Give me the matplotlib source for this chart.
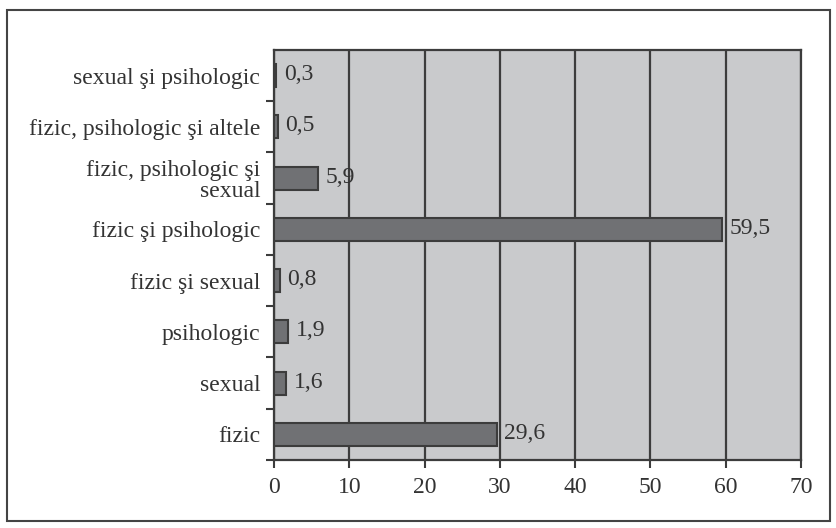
import matplotlib.pyplot as plt
from matplotlib.patches import Rectangle

categorii = ['fizic', 'sexual', 'psihologic', 'fizic şi sexual', 'fizic şi psihologic',
             'fizic, psihologic şi\nsexual', 'fizic, psihologic şi altele', 'sexual şi psihologic']
valori = [29.6, 1.6, 1.9, 0.8, 59.5, 5.9, 0.5, 0.3]
etichete = ['29,6', '1,6', '1,9', '0,8', '59,5', '5,9', '0,5', '0,3']
x_ticks = [0, 10, 20, 30, 40, 50, 60, 70]

plt.rcParams['font.family'] = ['Liberation Serif', 'DejaVu Serif']
culoare_linie = '#3c3c3c'
marime = 17

fig = plt.figure(figsize=(8.37, 5.28), dpi=100)
ax = fig.add_axes([0.3274, 0.1288, 0.6296, 0.7765])
ax.set_facecolor('#c9cacc')

poz = list(range(len(categorii)))
ax.barh(poz, valori, height=0.45, color='#707174', edgecolor=culoare_linie,
        linewidth=1.5, zorder=3)
for y, v, t in zip(poz, valori, etichete):
    ax.text(v + 1.0, y + 0.02, t, va='center', ha='left', fontsize=marime, color='#333333', zorder=4)

ax.set_xlim(0, 70)
ax.set_ylim(-0.5, len(categorii) - 0.5)
ax.set_xticks(x_ticks)
ax.set_xticklabels([str(x) for x in x_ticks], fontsize=marime, color='#333333')
ax.xaxis.grid(True, color=culoare_linie, linewidth=1.6, zorder=1)
ax.set_axisbelow(True)

# etichete centrate pe categorii, tick-uri pe granite
ax.set_yticks([p + 0.5 for p in poz[:-1]] + [-0.5])
ax.set_yticklabels([])
ax.set_yticks(poz, minor=True)
ax.set_yticklabels(categorii, minor=True, fontsize=marime, color='#333333',
                   linespacing=1.0)
ax.tick_params(axis='y', which='minor', length=0, pad=10)
ax.tick_params(axis='y', which='major', length=6, width=1.5, color=culoare_linie, direction='out')
ax.tick_params(axis='x', length=6, width=1.5, color=culoare_linie, pad=6)
for s in ax.spines.values():
    s.set_color(culoare_linie)
    s.set_linewidth(1.6)

# chenarul exterior
fig.patches.append(Rectangle((7 / 837, 1 - 521 / 528), 823 / 837, 511 / 528,
                             transform=fig.transFigure, fill=False,
                             edgecolor='#444444', linewidth=1.5))

fig.savefig('out.png', dpi=100)
